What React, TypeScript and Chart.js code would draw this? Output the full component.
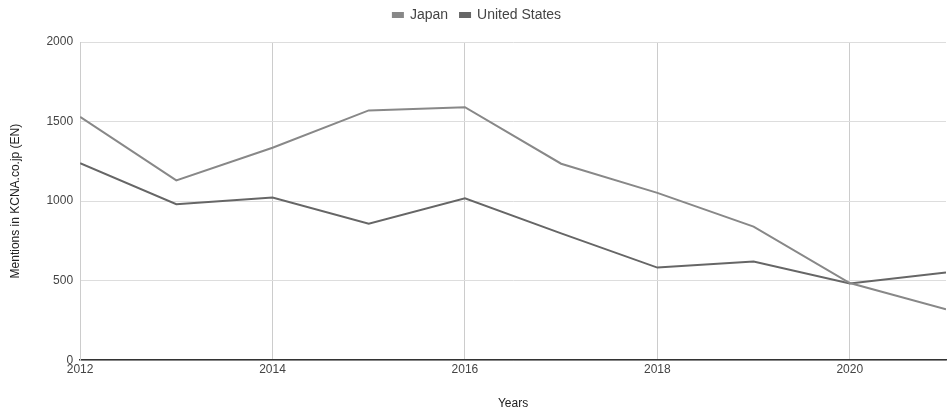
import React, { useEffect, useRef } from "react";
import { Chart, registerables } from "chart.js";

Chart.register(...registerables);

const years = [2012, 2013, 2014, 2015, 2016, 2017, 2018, 2019, 2020, 2021];
const japan = [1530, 1130, 1335, 1570, 1590, 1235, 1052, 840, 485, 320];
const unitedStates = [1238, 980, 1023, 858, 1017, 797, 582, 620, 482, 552];
const seriesNames = ["Japan", "United States"];
const yTitle = "Mentions in KCNA.co.jp (EN)";
const xTitle = "Years";

export default function App() {
  const ref = useRef<HTMLCanvasElement | null>(null);
  useEffect(() => {
    document.body.style.margin = "0";
    const font = "'Liberation Sans', Arial, sans-serif";
    const legendMargin = {
      id: "legendMargin",
      beforeInit(chart: any) {
        const orig = chart.legend.fit;
        chart.legend.fit = function () {
          orig.bind(chart.legend)();
          this.height += 10;
        };
      },
    };
    const chart = new Chart(ref.current!, {
      type: "line",
      data: {
        datasets: [
          {
            label: seriesNames[0],
            data: years.map((x, i) => ({ x, y: japan[i] })),
            borderColor: "#888888",
            backgroundColor: "#888888",
            borderWidth: 2,
            pointRadius: 0,
            tension: 0,
          },
          {
            label: seriesNames[1],
            data: years.map((x, i) => ({ x, y: unitedStates[i] })),
            borderColor: "#666666",
            backgroundColor: "#666666",
            borderWidth: 2,
            pointRadius: 0,
            tension: 0,
          },
        ],
      },
      plugins: [legendMargin],
      options: {
        animation: false,
        responsive: false,
        layout: { padding: { left: 8, right: 3, top: -4, bottom: -1 } },
        plugins: {
          legend: {
            position: "top",
            labels: {
              boxWidth: 10,
              boxHeight: 4,
              color: "#444",
              font: { family: font, size: 14 },
              padding: 12,
            },
          },
          tooltip: { enabled: false },
        },
        scales: {
          x: {
            type: "linear",
            min: 2012,
            max: 2021,
            afterBuildTicks: (scale: any) => {
              scale.ticks = years.filter((y) => y % 2 === 0).map((v) => ({ value: v }));
            },
            ticks: {
              color: "#444",
              font: { family: font, size: 12 },
              padding: 2,
              maxRotation: 0,
              callback: (v: any) => String(v),
            },
            grid: { color: "#cccccc", drawTicks: false },
            border: { color: "#333333", width: 1.5 },
            title: {
              display: true,
              text: xTitle,
              color: "#222",
              font: { family: font, size: 12 },
              padding: { top: 18, bottom: 0 },
            },
          },
          y: {
            min: 0,
            max: 2000,
            ticks: {
              stepSize: 500,
              color: "#444",
              font: { family: font, size: 12 },
              padding: 7,
              callback: (v: any) => String(v),
            },
            grid: { color: "#dddddd", drawTicks: false },
            border: { color: "#cccccc" },
            title: {
              display: true,
              text: yTitle,
              color: "#222",
              font: { family: font, size: 12 },
              padding: { top: 0, bottom: 17 },
            },
          },
        },
      },
    });
    return () => chart.destroy();
  }, []);
  return <canvas ref={ref} width={949} height={410} style={{ display: "block" }} />;
}
